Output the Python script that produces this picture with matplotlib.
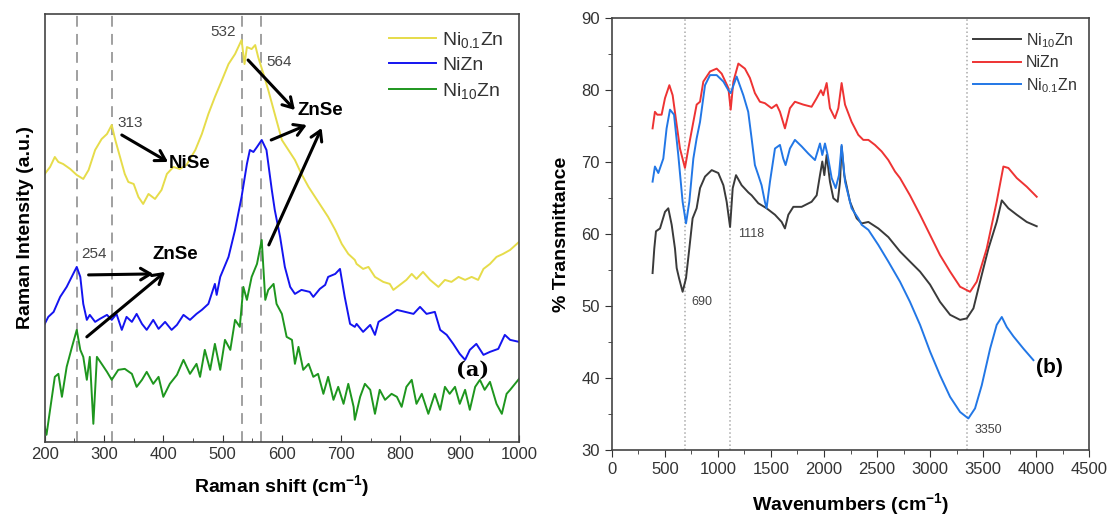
import numpy as np
import matplotlib
matplotlib.use("Agg")
import matplotlib.pyplot as plt
from matplotlib.ticker import MultipleLocator

plt.rcParams['font.family'] = ['Liberation Sans', 'DejaVu Sans']
plt.rcParams['mathtext.default'] = 'regular'

# ---------------- (a) Raman data (intensity in arbitrary units) ----------------
ni01_shift = [200, 209, 217, 223, 231, 243, 254, 265, 274, 285, 296, 305, 313, 319, 327, 335,
              341, 350, 358, 366, 375, 386, 397, 406, 417, 428, 439, 454, 465, 476, 487, 499,
              510, 521, 532, 537, 541, 549, 555, 560, 569, 577, 588, 600, 611, 622, 633, 645,
              656, 667, 678, 690, 701, 712, 723, 726, 737, 746, 757, 771, 782, 788, 799, 810,
              819, 827, 838, 850, 864, 875, 886, 898, 909, 920, 931, 940, 951, 962, 973, 985, 1000]
ni01_int = [268, 275, 285, 280, 278, 273, 267, 263, 272, 292, 303, 308, 317, 302, 285, 268,
            260, 258, 245, 238, 248, 243, 252, 268, 275, 273, 277, 292, 308, 328, 345, 362,
            378, 388, 402, 378, 395, 393, 397, 385, 368, 352, 328, 302, 292, 282, 268, 255,
            245, 235, 225, 212, 198, 188, 182, 178, 173, 175, 165, 160, 158, 152, 157, 162,
            168, 163, 170, 162, 155, 162, 160, 165, 162, 165, 162, 173, 178, 185, 188, 192, 200]

nizn_shift = [200, 206, 215, 226, 237, 248, 254, 260, 265, 271, 276, 285, 293, 305, 313, 321,
              330, 338, 347, 355, 364, 372, 383, 392, 403, 414, 423, 434, 445, 456, 465, 476,
              487, 490, 496, 510, 521, 532, 541, 546, 552, 558, 566, 574, 583, 588, 597, 605,
              614, 622, 633, 647, 653, 664, 673, 678, 690, 698, 706, 715, 723, 726, 737, 749,
              757, 763, 771, 782, 794, 808, 822, 833, 844, 858, 867, 878, 889, 900, 909, 917,
              928, 940, 951, 965, 976, 985, 1000]
nizn_int = [118, 125, 130, 145, 155, 168, 175, 165, 138, 122, 127, 120, 123, 127, 122, 128,
            112, 125, 120, 128, 118, 112, 122, 113, 120, 112, 117, 127, 122, 128, 132, 138,
            158, 147, 165, 185, 212, 245, 278, 292, 290, 295, 302, 292, 252, 232, 205, 175,
            155, 148, 152, 150, 145, 153, 157, 165, 168, 173, 145, 118, 115, 118, 110, 117,
            107, 120, 123, 127, 132, 130, 128, 135, 128, 130, 112, 107, 98, 88, 82, 92,
            98, 87, 90, 93, 107, 102, 100]

ni10_shift = [200, 203, 209, 217, 223, 229, 237, 246, 254, 260, 265, 271, 276, 282, 288, 296,
              305, 313, 324, 335, 347, 355, 364, 372, 383, 392, 400, 411, 423, 434, 445, 456,
              462, 470, 479, 487, 496, 504, 513, 521, 529, 535, 541, 549, 558, 566, 572, 577,
              586, 591, 600, 608, 617, 622, 628, 636, 645, 653, 661, 670, 678, 687, 695, 704,
              712, 721, 723, 732, 740, 749, 757, 765, 774, 785, 794, 802, 810, 819, 827, 836,
              847, 858, 867, 875, 883, 892, 900, 909, 917, 926, 934, 942, 951, 962, 971, 979,
              985, 1000]
ni10_int = [15, 7, 32, 65, 68, 45, 75, 95, 112, 92, 85, 62, 85, 18, 85, 78,
            70, 62, 72, 73, 68, 55, 62, 70, 58, 65, 45, 58, 67, 82, 68, 78,
            65, 92, 72, 98, 72, 102, 92, 122, 115, 155, 142, 165, 178, 202, 142, 152,
            158, 138, 128, 105, 102, 78, 95, 72, 78, 65, 68, 48, 65, 42, 55, 38,
            58, 35, 22, 45, 58, 52, 28, 52, 42, 48, 45, 35, 55, 62, 38, 48,
            28, 48, 32, 55, 48, 55, 38, 52, 32, 55, 62, 52, 60, 38, 28, 48,
            52, 63]

raman_peaks = [254, 313, 532, 564]

# ---------------- (b) FTIR data (% transmittance) ----------------
ftir_ni10_wn = [385, 401, 417, 455, 502, 533, 565, 596, 612, 634, 668, 700, 731, 762, 800, 832,
                879, 942, 1004, 1052, 1083, 1115, 1140, 1171, 1224, 1287, 1318, 1381, 1459, 1538,
                1601, 1632, 1664, 1711, 1789, 1883, 1931, 1962, 1984, 2003, 2025, 2056, 2088,
                2129, 2151, 2166, 2191, 2245, 2308, 2355, 2418, 2512, 2606, 2716, 2810, 2905,
                2999, 3093, 3188, 3282, 3345, 3408, 3470, 3549, 3627, 3675, 3737, 3816, 3910, 4004]
ftir_ni10_t = [54.6, 58.0, 60.4, 60.8, 63.1, 63.6, 61.3, 58.0, 55.3, 53.9, 52.0, 53.9, 58.0, 62.2,
               63.6, 66.4, 68.0, 68.9, 68.5, 66.8, 64.5, 61.0, 66.4, 68.2, 66.8, 65.8, 65.4, 64.3,
               63.6, 62.7, 61.7, 60.8, 62.7, 63.8, 63.8, 64.5, 65.4, 68.2, 70.1, 68.2, 71.0, 67.3,
               65.0, 64.5, 67.3, 72.2, 68.2, 64.5, 62.2, 61.5, 61.7, 60.8, 59.6, 57.6, 56.2, 54.8,
               53.0, 50.6, 48.8, 48.1, 48.3, 49.7, 53.4, 58.0, 61.7, 64.7, 63.6, 62.7, 61.7, 61.1]

ftir_nizn_wn = [385, 407, 429, 470, 502, 543, 574, 612, 643, 690, 722, 769, 800, 832, 863, 926,
                989, 1036, 1099, 1121, 1146, 1193, 1255, 1302, 1349, 1396, 1443, 1506, 1553,
                1585, 1632, 1679, 1726, 1805, 1883, 1931, 1971, 1993, 2025, 2056, 2103, 2135,
                2166, 2198, 2260, 2323, 2370, 2418, 2480, 2543, 2606, 2669, 2716, 2810, 2905,
                2999, 3093, 3188, 3282, 3376, 3439, 3533, 3627, 3690, 3737, 3816, 3910, 4004]
ftir_nizn_t = [74.7, 77.0, 76.6, 76.6, 78.9, 80.7, 79.3, 75.2, 71.9, 69.2, 71.9, 75.6, 78.0, 78.4,
               81.2, 82.6, 83.0, 82.3, 80.3, 77.3, 81.2, 83.7, 83.0, 81.7, 79.6, 78.4, 78.2, 77.5,
               78.0, 77.0, 74.7, 77.5, 78.4, 78.0, 77.7, 78.9, 80.0, 79.3, 81.0, 77.5, 76.1, 77.5,
               81.0, 78.0, 75.6, 73.8, 73.1, 73.1, 72.4, 71.5, 70.3, 68.7, 67.8, 65.4, 62.7,
               59.9, 57.1, 54.8, 52.7, 52.0, 53.4, 58.0, 64.5, 69.4, 69.2, 67.8, 66.6, 65.2]

ftir_ni01_wn = [385, 407, 439, 486, 517, 549, 587, 627, 668, 700, 731, 769, 800, 832, 879, 926,
                989, 1052, 1099, 1121, 1177, 1240, 1286, 1318, 1349, 1381, 1412, 1443, 1459,
                1491, 1538, 1585, 1616, 1638, 1679, 1726, 1789, 1852, 1915, 1962, 1984, 2009,
                2034, 2072, 2110, 2141, 2166, 2198, 2260, 2323, 2355, 2418, 2512, 2606, 2716,
                2810, 2905, 2999, 3093, 3188, 3282, 3360, 3423, 3486, 3565, 3627, 3675, 3722,
                3785, 3879, 3973]
ftir_ni01_t = [67.3, 69.4, 68.5, 70.5, 74.7, 77.3, 76.6, 71.0, 64.5, 61.5, 64.5, 70.5, 73.3, 75.6,
               80.7, 82.1, 82.1, 81.2, 80.0, 79.6, 81.9, 79.3, 77.0, 73.3, 69.6, 68.2, 66.8, 64.5,
               63.6, 67.3, 71.9, 72.4, 70.5, 69.6, 71.9, 73.1, 72.2, 71.2, 70.3, 72.6, 71.0, 72.6,
               71.0, 67.8, 66.4, 68.2, 72.4, 67.3, 63.6, 62.2, 61.3, 60.6, 58.5, 56.2, 53.4,
               50.6, 47.4, 43.7, 40.4, 37.4, 35.3, 34.4, 35.8, 39.0, 44.1, 47.4, 48.5, 47.1,
               45.8, 44.1, 42.5]

ftir_peaks = [690, 1118, 3350]

# ============================================================
# Figure
# ============================================================
fig = plt.figure(figsize=(11.1, 5.21), dpi=100)
ax1 = fig.add_axes([0.0403, 0.152, 0.4273, 0.821])
ax2 = fig.add_axes([0.5511, 0.136, 0.4303, 0.829])

# ---- panel (a) ----
for p in raman_peaks:
    ax1.axvline(p, color='#999999', linestyle=(0, (6, 4)), linewidth=1.3, zorder=1)

ax1.plot(ni01_shift, ni01_int, color='#E6DC4A', linewidth=1.4, label=r'Ni$_{0.1}$Zn')
ax1.plot(nizn_shift, nizn_int, color='#1414F0', linewidth=1.4, label='NiZn')
ax1.plot(ni10_shift, ni10_int, color='#1E961E', linewidth=1.4, label=r'Ni$_{10}$Zn')

ax1.set_xlim(200, 1000)
ax1.set_ylim(0, 428)
ax1.set_yticks([])
ax1.xaxis.set_major_locator(MultipleLocator(100))
ax1.xaxis.set_minor_locator(MultipleLocator(50))
ax1.tick_params(axis='x', which='both', direction='in', labelsize=12, colors='#333333',
                labelcolor='#333333')
ax1.tick_params(axis='x', which='major', length=5)
ax1.tick_params(axis='x', which='minor', length=3)
for s in ax1.spines.values():
    s.set_color('#444444')
    s.set_linewidth(1.2)
ax1.set_xlabel(r'Raman shift (cm$^{-1}$)', fontsize=14, fontweight='bold', labelpad=8)
ax1.set_ylabel('Raman Intensity (a.u.)', fontsize=14, fontweight='bold', labelpad=8)

leg1 = ax1.legend(loc='upper right', fontsize=14, frameon=False, handlelength=2.4,
                  handletextpad=0.3, labelspacing=0.35, borderaxespad=0.4)
for t in leg1.get_texts():
    t.set_color('#333333')

arrow_kw = dict(arrowstyle='->,head_length=0.5,head_width=0.3', color='black', lw=2.2,
                mutation_scale=14, shrinkA=0, shrinkB=0)
ax1.text(322, 319, '313', fontsize=11, color='#444444', va='center')
ax1.annotate('', xy=(408, 280), xytext=(330, 307), arrowprops=arrow_kw)
ax1.text(410, 278, 'NiSe', fontsize=13.5, fontweight='bold', va='center')

ax1.text(501, 410, '532', fontsize=11, color='#444444', va='center', ha='center')
ax1.text(574, 380, '564', fontsize=11, color='#444444', va='center')
ax1.annotate('', xy=(622, 332), xytext=(543, 382), arrowprops=arrow_kw)
ax1.text(626, 332, 'ZnSe', fontsize=13.5, fontweight='bold', va='center')
ax1.annotate('', xy=(642, 317), xytext=(582, 302), arrowprops=arrow_kw)
ax1.annotate('', xy=(667, 314), xytext=(578, 197), arrowprops=arrow_kw)

ax1.text(262, 188, '254', fontsize=11, color='#444444', va='center')
ax1.text(382, 187, 'ZnSe', fontsize=13.5, fontweight='bold', va='center')
ax1.annotate('', xy=(383, 168), xytext=(274, 167), arrowprops=arrow_kw)
ax1.annotate('', xy=(403, 170), xytext=(271, 105), arrowprops=arrow_kw)

ax1.text(922, 72, '(a)', fontsize=15, fontweight='bold', family='DejaVu Serif',
         ha='center', va='center')

# ---- panel (b) ----
for p in ftir_peaks:
    ax2.axvline(p, color='#aaaaaa', linestyle=':', linewidth=1.1, zorder=1)

ax2.plot(ftir_ni10_wn, ftir_ni10_t, color='#3A3A3A', linewidth=1.4, label=r'Ni$_{10}$Zn')
ax2.plot(ftir_nizn_wn, ftir_nizn_t, color='#EE3333', linewidth=1.4, label='NiZn')
ax2.plot(ftir_ni01_wn, ftir_ni01_t, color='#2277E6', linewidth=1.4, label=r'Ni$_{0.1}$Zn')

ax2.set_xlim(0, 4500)
ax2.set_ylim(30, 90)
ax2.xaxis.set_major_locator(MultipleLocator(500))
ax2.xaxis.set_minor_locator(MultipleLocator(250))
ax2.yaxis.set_major_locator(MultipleLocator(10))
ax2.yaxis.set_minor_locator(MultipleLocator(5))
ax2.tick_params(which='both', direction='out', labelsize=12, colors='#333333')
ax2.tick_params(which='major', length=5)
ax2.tick_params(which='minor', length=3)
for s in ax2.spines.values():
    s.set_color('#444444')
    s.set_linewidth(1.2)
ax2.set_xlabel(r'Wavenumbers (cm$^{-1}$)', fontsize=14, fontweight='bold', labelpad=10)
ax2.set_ylabel('% Transmittance', fontsize=14, fontweight='bold', labelpad=8)

leg2 = ax2.legend(loc='upper right', fontsize=11.5, frameon=False, handlelength=3.0,
                  handletextpad=0.3, labelspacing=0.35, borderaxespad=0.4)
for t in leg2.get_texts():
    t.set_color('#333333')

ax2.text(750, 50.6, '690', fontsize=9, color='#444444', va='center')
ax2.text(1190, 60.0, '1118', fontsize=9, color='#444444', va='center')
ax2.text(3420, 32.8, '3350', fontsize=9, color='#444444', va='center')
ax2.text(4120, 41.5, '(b)', fontsize=15, fontweight='bold', ha='center', va='center')

fig.savefig('out.png', dpi=100)
